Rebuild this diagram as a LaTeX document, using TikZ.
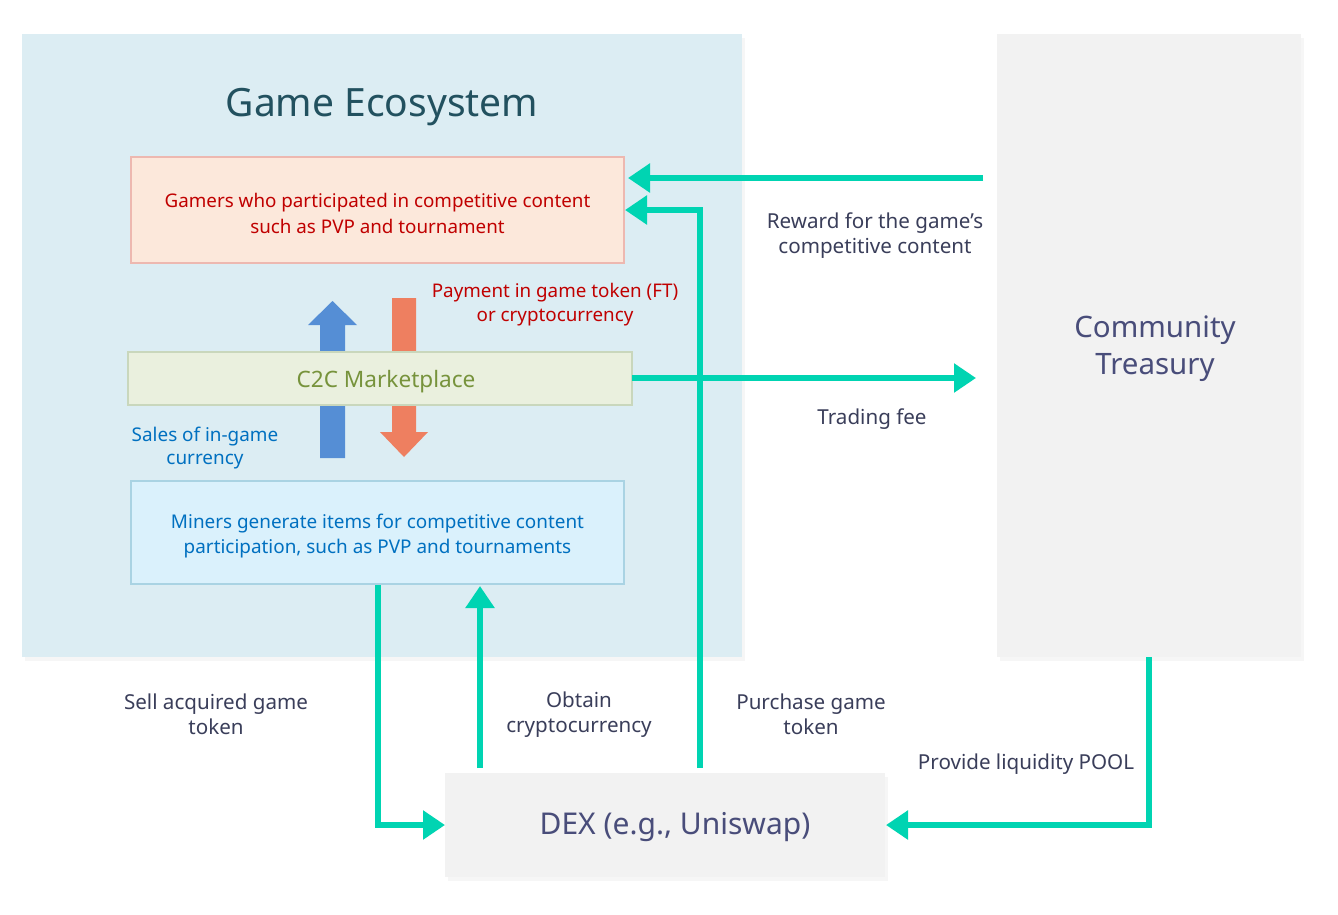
\documentclass[tikz,border=0pt]{standalone}
\usepackage{fontspec}
\setmainfont{Noto Sans}
\usetikzlibrary{arrows.meta,shadows}
\definecolor{ecobg}{HTML}{DCEDF3}
\definecolor{titlec}{HTML}{22515F}
\definecolor{gamfill}{HTML}{FCE8DB}
\definecolor{gamdraw}{HTML}{EDB8B0}
\definecolor{redt}{HTML}{C00000}
\definecolor{c2cfill}{HTML}{EAF0DE}
\definecolor{c2cdraw}{HTML}{C9D7BC}
\definecolor{greent}{HTML}{77933C}
\definecolor{minfill}{HTML}{DAF1FC}
\definecolor{mindraw}{HTML}{A9D3E3}
\definecolor{bluet}{HTML}{0070C0}
\definecolor{grayfill}{HTML}{F2F2F2}
\definecolor{slate}{HTML}{494D7A}
\definecolor{labelc}{HTML}{3A3E5A}
\definecolor{teal}{HTML}{00D4B2}
\definecolor{barblue}{HTML}{558ED5}
\definecolor{barorange}{HTML}{EE7F60}
\tikzset{
  box/.style={draw, line width=1.5pt, minimum width=#1, align=center, inner sep=0pt},
  flow/.style={draw=teal, line width=6.5pt, -{Triangle[length=22pt,width=28pt]}},
  lab/.style={text=labelc, font=\fontsize{20.6}{25}\selectfont, align=center},
  shad/.style={drop shadow={opacity=0.07, shadow xshift=3pt, shadow yshift=-4pt}}
}
\begin{document}
\begin{tikzpicture}[x=1pt,y=-1pt]
\useasboundingbox[fill=white] (0,0) rectangle (1338,914);
% backgrounds
\path[fill=ecobg, shad] (22,34) rectangle (742,657);
\path[fill=grayfill, shad] (997,34) rectangle (1301,657);
\node[text=titlec, font=\fontsize{39}{42}\selectfont] (title) at (382,107) {Game Ecosystem};
% inner boxes
\node[box=493pt, minimum height=106pt, fill=gamfill, draw=gamdraw] (gam) at (377.5,210) {};
\node[text=redt, font=\fontsize{18.8}{26}\selectfont, align=center] (gamt) at (377.5,213.5) {Gamers who participated in competitive content\\such as PVP and tournament};
\node[box=493pt, minimum height=103pt, fill=minfill, draw=mindraw] (min) at (377.5,532.5) {};
\node[text=bluet, font=\fontsize{18.9}{25}\selectfont, align=center] (mint) at (377.5,536.5) {Miners generate items for competitive content\\participation, such as PVP and tournaments};
% block arrows
\fill[barblue] (320,458) -- (320,325) -- (308,325) -- (332.5,301) -- (357,325) -- (345,325) -- (345,458) -- cycle;
\fill[barorange] (392,298) -- (416,298) -- (416,432) -- (428,432) -- (404,457) -- (380,432) -- (392,432) -- cycle;
\node[box=504pt, minimum height=53pt, fill=c2cfill, draw=c2cdraw] (c2c) at (380,378.5) {};
\node[text=greent, font=\fontsize{22.6}{26}\selectfont] (c2ct) at (386,381.5) {C2C Marketplace};
\node[text=redt, font=\fontsize{18.8}{24}\selectfont, align=center] (pay) at (555,305) {Payment in game token (FT)\\or cryptocurrency};
\node[text=bluet, font=\fontsize{18.9}{23}\selectfont, align=center] (sales) at (205,448.5) {Sales of in-game\\currency};
% treasury and dex
\node[text=slate, font=\fontsize{29.5}{37}\selectfont, align=center] (tre) at (1155,349) {Community\\Treasury};
\node[fill=grayfill, shad, minimum width=440pt, minimum height=104pt, inner sep=0pt] (dex) at (665,825) {};
\node[text=slate, font=\fontsize{30}{36}\selectfont] (dext) at (675,827) {DEX (e.g., Uniswap)};
% coordinates
\coordinate (rwS) at (983,178);
\coordinate (rwE) at (628,178);
\coordinate (puS) at (700,768);
\coordinate (puC) at (700,210);
\coordinate (puE) at (625,210);
\coordinate (tfS) at (632,378);
\coordinate (tfE) at (976,378);
\coordinate (seS) at (378,585);
\coordinate (seC) at (378,825);
\coordinate (seE) at (445,825);
\coordinate (obS) at (480,768);
\coordinate (obE) at (480,586);
\coordinate (plS) at (1149,657);
\coordinate (plC) at (1149,825);
\coordinate (plE) at (886,825);
% teal flows
\draw[flow] (rwS) -- (rwE);
\draw[flow] (tfS) -- (tfE);
\draw[flow] (puS) -- (puC) -- (puE);
\draw[flow] (seS) -- (seC) -- (seE);
\draw[flow] (obS) -- (obE);
\draw[flow] (plS) -- (plC) -- (plE);
% labels
\node[lab] (l1) at (875,235.5) {Reward for the game’s\\competitive content};
\node[lab] (l2) at (872,419) {Trading fee};
\node[lab] (l3) at (216,714.5) {Sell acquired game\\token};
\node[lab] (l4) at (579,714.5) {Obtain\\cryptocurrency};
\node[lab] (l5) at (811,714.5) {Purchase game\\token};
\node[lab] (l6) at (1026,764) {Provide liquidity POOL};
\end{tikzpicture}
\end{document}
